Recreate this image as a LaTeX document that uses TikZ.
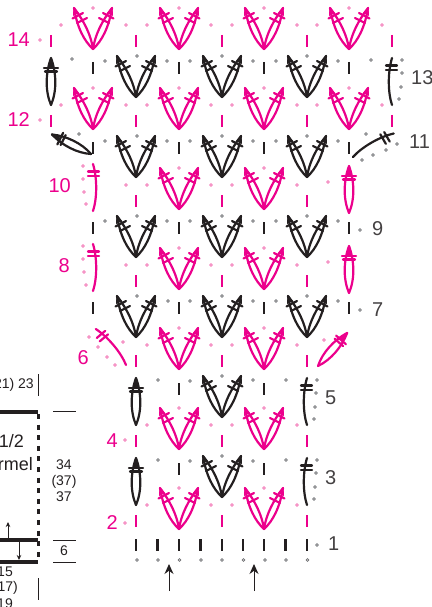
\documentclass[tikz,border=0pt]{standalone}
\usepackage{fontspec}
\setmainfont{Liberation Sans}
\usetikzlibrary{arrows.meta}
\definecolor{stpink}{HTML}{EC008C}
\definecolor{stblack}{HTML}{231F20}
\definecolor{dotpink}{HTML}{F26FB2}
\definecolor{dotgray}{HTML}{6D6E71}
\tikzset{
  stitchline/.style={line width=2.2pt, line cap=round, line join=round},
  barline/.style={line width=2.6pt},
  pinkdot/.style={draw=dotpink, line width=0.6pt, fill=white},
  graydot/.style={draw=dotgray, line width=0.6pt, fill=white},
  pinknum/.style={text=stpink, font=\fontsize{20}{20}\selectfont, inner sep=0pt},
  blacknum/.style={text=stblack!85, font=\fontsize{20}{20}\selectfont, inner sep=0pt, anchor=west},
  sizetext/.style={text=stblack, font=\fontsize{14}{16}\selectfont, inner sep=0pt},
  vcluster/.pic={
    \foreach \s in {-1,1}{
      \draw[stitchline] (0,0) .. controls (\s*9,-8) and (\s*16,-22) .. (\s*19,-41);
      \draw[stitchline] (0,0) .. controls (\s*2,-14) and (\s*9,-28) .. (\s*19,-41);
      \fill (\s*19.5,-42) -- (\s*20,-33) -- (\s*14,-36) -- cycle;
      \draw[stitchline] (\s*20.5,-30.5) -- (\s*10,-36);
      \draw[stitchline] (\s*16,-26) -- (\s*6,-31);
    }
  },
  lensst/.pic={
    \draw[stitchline] (0,0) .. controls (-6,-14) and (-5.5,-32) .. (0,-47);
    \draw[stitchline] (0,0) .. controls (6,-14) and (5.5,-32) .. (0,-47);
    \fill (0,-48) -- (-2.5,-38) -- (2.5,-38) -- cycle;
    \draw[stitchline] (-7,-37) -- (7,-37);
    \draw[stitchline] (-6,-33.5) -- (6,-33.5);
  },
  postst/.pic={
    \draw[stitchline] (0,0) .. controls (4,-12) and (4.5,-32) .. (0,-47);
    \draw[stitchline] (-5,-39.5) -- (6,-39.5);
    \draw[stitchline] (-5,-35) -- (6,-35);
  },
}
\begin{document}
\begin{tikzpicture}[x=1pt, y=-1pt]
\useasboundingbox (0,0) rectangle (431,607);
\clip (0,0) rectangle (431,607);
% pink clusters
\foreach \x in {93,179,264,349}
  \foreach \y in {49,129}
    \pic[color=stpink] at (\x,\y) {vcluster};
\foreach \x in {179,264}
  \foreach \y in {209,289,369,449,529}
    \pic[color=stpink] at (\x,\y) {vcluster};
% black clusters
\foreach \x in {136,222,307}
  \foreach \y in {97,177,257,337}
    \pic[color=stblack] at (\x,\y) {vcluster};
\foreach \y in {417,497}
  \pic[color=stblack] at (222,\y) {vcluster};
% bars
\foreach \x in {51,136,222,307,392}
  \foreach \y in {35,115}
    \draw[barline, stpink] (\x,\y) -- (\x,\y+12);
\foreach \x in {136,222,307}
  \foreach \y in {195,275,355,435,515}
    \draw[barline, stpink] (\x,\y) -- (\x,\y+12);
\foreach \x in {93,179,264,349}
  \foreach \y in {62,142,222,302}
    \draw[barline, stblack] (\x,\y) -- (\x,\y+12);
\foreach \x in {179,264}
  \foreach \y in {383,463}
    \draw[barline, stblack] (\x,\y) -- (\x,\y+12);
\foreach \x in {136,157.5,179,200.5,222,243,264,285.5,307}
  \draw[barline, stblack] (\x,539) -- (\x,551);
% edge stitches
\pic[color=stblack] at (51,105) {lensst};
\pic[color=stblack, rotate=63.4, scale=0.93] at (91,154) {lensst};
\pic[color=stpink] at (349,213) {lensst};
\pic[color=stpink] at (349,293) {lensst};
\pic[color=stpink, rotate=-41.4, scale=0.94] at (318,366) {lensst};
\pic[color=stblack] at (136,425) {lensst};
\pic[color=stblack] at (136,505) {lensst};
\pic[color=stpink] at (93,211) {postst};
\pic[color=stpink] at (93,291) {postst};
\pic[color=stpink, rotate=40] at (126,365) {postst};
\pic[color=stblack, xscale=-1] at (392,105) {postst};
\pic[color=stblack, rotate=-60, xscale=-1] at (353,157) {postst};
\pic[color=stblack, xscale=-1] at (307,425) {postst};
\pic[color=stblack, xscale=-1] at (307,505) {postst};
% pink dots
\foreach \x/\y in {93/8,179/8,264/8,349/8,61/25,126/25,147/25,211/25,232/25,297/25,317/25,382/25,40/40,
  93/88,179/88,264/88,349/88,61/105,126/105,147/105,211/105,232/105,297/105,317/105,382/105,40/120,
  83/166,83/179,84/192,86/204,179/168,264/168,126/185,147/185,211/185,232/185,297/185,328/182,
  83/246,83/259,84/272,86/285,179/248,264/248,126/265,147/265,211/265,232/265,297/265,328/262,
  89/337,98/347,107/357,115/365,123/342,147/345,179/328,264/328,211/345,232/345,297/345,324/340,
  125/440,147/425,179/408,264/408,211/425,232/425,297/425,
  125/523,147/505,179/488,264/488,211/505,232/505,297/505}
  \draw[pinkdot] (\x,\y) circle (1.4);
% gray dots
\foreach \x/\y in {72/59,105/61,137/56,167/61,190/61,222/56,253/61,276/61,307/56,338/61,371/60,402/60,402/73,401/87,399/99,
  79/134,105/141,137/136,167/141,190/141,222/136,253/141,276/141,307/136,338/141,366/134,397/144,386/150,373/155,362/160,
  105/221,137/216,167/221,190/221,222/216,253/221,276/221,307/216,338/221,360/230,
  137/296,168/301,190/301,222/296,253/301,276/301,307/296,338/301,360/310,
  158/380,190/381,222/376,253/380,286/380,317/380,316/393,315/407,314/419,
  158/460,190/461,222/456,253/461,286/460,317/460,316/473,315/487,314/499,
  137/560,158/560,179.5/560,201/560,222/560,243.5/560,265/560,286/560,307.5/560,317/545}
  \draw[graydot] (\x,\y) circle (1.4);
% row numbers
\node[pinknum, anchor=east] (n14) at (30,40) {14};
\node[pinknum, anchor=east] (n12) at (30,120) {12};
\node[pinknum, anchor=east] (n10) at (71,186) {10};
\node[pinknum, anchor=east] (n8) at (70,266) {8};
\node[pinknum, anchor=east] (n6) at (89,358) {6};
\node[pinknum, anchor=east] (n4) at (118,441) {4};
\node[pinknum, anchor=east] (n2) at (118,523) {2};
\node[blacknum] (n13) at (411,78) {13};
\node[blacknum] (n11) at (409,142) {11};
\node[blacknum] (n9) at (372,229) {9};
\node[blacknum] (n7) at (372,310) {7};
\node[blacknum] (n5) at (325,398) {5};
\node[blacknum] (n3) at (325,478) {3};
\node[blacknum] (n1) at (328,544) {1};
% arrows
\coordinate (arrowa) at (169,591);
\coordinate (arrowb) at (254,591);
\coordinate (arrowc) at (169,564);
\coordinate (arrowd) at (254,564);
\draw[stblack, line width=1pt, -{Stealth[length=10pt,width=9pt]}] (arrowa) -- (arrowc);
\draw[stblack, line width=1pt, -{Stealth[length=10pt,width=9pt]}] (arrowb) -- (arrowd);
% size plan
\draw[stblack, line width=3.5pt] (0,412) -- (38,412);
\draw[stblack, line width=3.5pt] (0,540) -- (38,540);
\draw[stblack, line width=3.5pt] (0,562) -- (38,562);
\draw[stblack, line width=3pt, dash pattern=on 5pt off 5.6pt] (38,414) -- (38,562);
\draw[stblack, line width=0.8pt] (38,374) -- (38,396);
\draw[stblack, line width=0.8pt] (38,578) -- (38,600);
\draw[stblack, line width=0.8pt] (53,411.5) -- (76,411.5);
\draw[stblack, line width=0.8pt] (53,540) -- (76,540);
\draw[stblack, line width=0.8pt] (53,562.5) -- (76,562.5);
\coordinate (upa) at (8,540);
\coordinate (upb) at (8,522);
\coordinate (downa) at (19,540);
\coordinate (downb) at (19,560);
\draw[stblack, line width=0.8pt, -{Stealth[length=5pt,width=4.5pt]}] (upa) -- (upb);
\draw[stblack, line width=0.8pt, -{Stealth[length=5pt,width=4.5pt]}] (downa) -- (downb);
\node[sizetext, anchor=east] (top) at (34,385) {21) 23};
\node[sizetext, anchor=east, font=\fontsize{18}{18}\selectfont] (half) at (24,441) {1/2};
\node[sizetext, anchor=east, font=\fontsize{18}{18}\selectfont] (yarn) at (33,464) {rmel};
\node[sizetext, align=center] (len) at (64,481) {34\\(37)\\37};
\node[sizetext] (six) at (64,551) {6};
\node[sizetext, anchor=east] (bota) at (13,572) {15};
\node[sizetext, anchor=east] (botb) at (18,588) {17)};
\node[sizetext, anchor=east] (botc) at (13,604) {19};
\end{tikzpicture}
\end{document}
